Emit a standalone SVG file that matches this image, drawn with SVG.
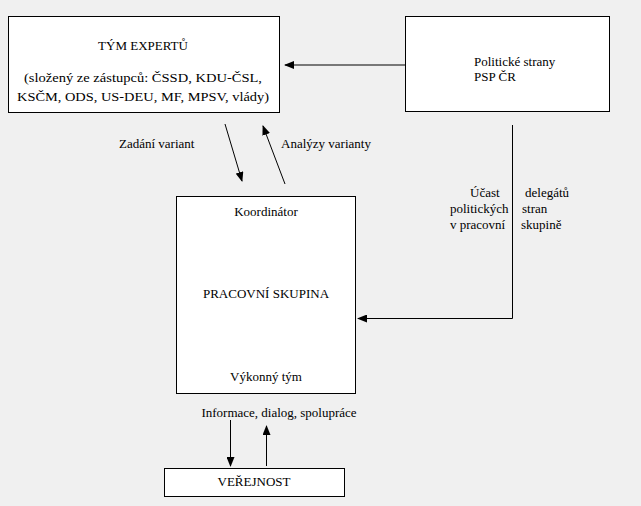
<svg xmlns="http://www.w3.org/2000/svg" width="641" height="506" viewBox="0 0 641 506" font-family="'Liberation Serif', 'DejaVu Serif', serif" font-size="13">
<defs>
<marker id="ah" markerWidth="10" markerHeight="8" refX="9" refY="4" orient="auto" markerUnits="userSpaceOnUse"><path d="M0,0 L10,4 L0,8 z" fill="#000"/></marker>
<style>
.box{fill:#fff;stroke:#000;stroke-width:1}
text{font-family:'Liberation Serif','DejaVu Serif',serif;font-size:13px;fill:#000}
.c{stroke:#000;stroke-width:1;fill:none}
</style>
</defs>
<rect width="641" height="506" fill="#f0f0f0"/>
<g id="expert"><rect class="box" x="8.5" y="16.5" width="271" height="96"/>
<text x="143" y="50" text-anchor="middle">TÝM EXPERTŮ</text>
<text x="143" y="82" text-anchor="middle" textLength="238" lengthAdjust="spacingAndGlyphs">(složený ze zástupců: ČSSD, KDU-ČSL,</text>
<text x="143" y="101" text-anchor="middle" textLength="252" lengthAdjust="spacingAndGlyphs">KSČM, ODS, US-DEU, MF, MPSV, vlády)</text></g>
<g id="strany"><rect class="box" x="405.5" y="16.5" width="204" height="95"/>
<text x="474" y="66">Politické strany</text>
<text x="474" y="81">PSP ČR</text></g>
<g id="skupina"><rect class="box" x="176.5" y="196.5" width="179" height="197"/>
<text x="266" y="216" text-anchor="middle">Koordinátor</text>
<text x="266" y="298" text-anchor="middle">PRACOVNÍ SKUPINA</text>
<text x="266" y="381" text-anchor="middle">Výkonný tým</text></g>
<g id="verejnost"><rect class="box" x="164.5" y="468.5" width="180" height="28"/>
<text x="254" y="486" text-anchor="middle">VEŘEJNOST</text></g>
<g id="connectors">
<line class="c" x1="405" y1="65" x2="285" y2="65" marker-end="url(#ah)"/>
<line class="c" x1="225" y1="124" x2="242" y2="181" marker-end="url(#ah)"/>
<line class="c" x1="285" y1="184" x2="263" y2="126" marker-end="url(#ah)"/>
<polyline class="c" points="512.5,125 512.5,318.5 358,318.5" marker-end="url(#ah)"/>
<line class="c" x1="230.5" y1="420" x2="230.5" y2="466" marker-end="url(#ah)"/>
<line class="c" x1="266.5" y1="466" x2="266.5" y2="426" marker-end="url(#ah)"/>
</g>
<g id="labels">
<text x="119" y="148">Zadání variant</text>
<text x="281" y="148">Analýzy varianty</text>
<text x="470" y="197">Účast</text>
<text x="525" y="197">delegátů</text>
<text x="450" y="213">politických</text>
<text x="522" y="213">stran</text>
<text x="450" y="229">v pracovní</text>
<text x="521" y="229">skupině</text>
<text x="279" y="417" text-anchor="middle">Informace, dialog, spolupráce</text>
</g>
</svg>
